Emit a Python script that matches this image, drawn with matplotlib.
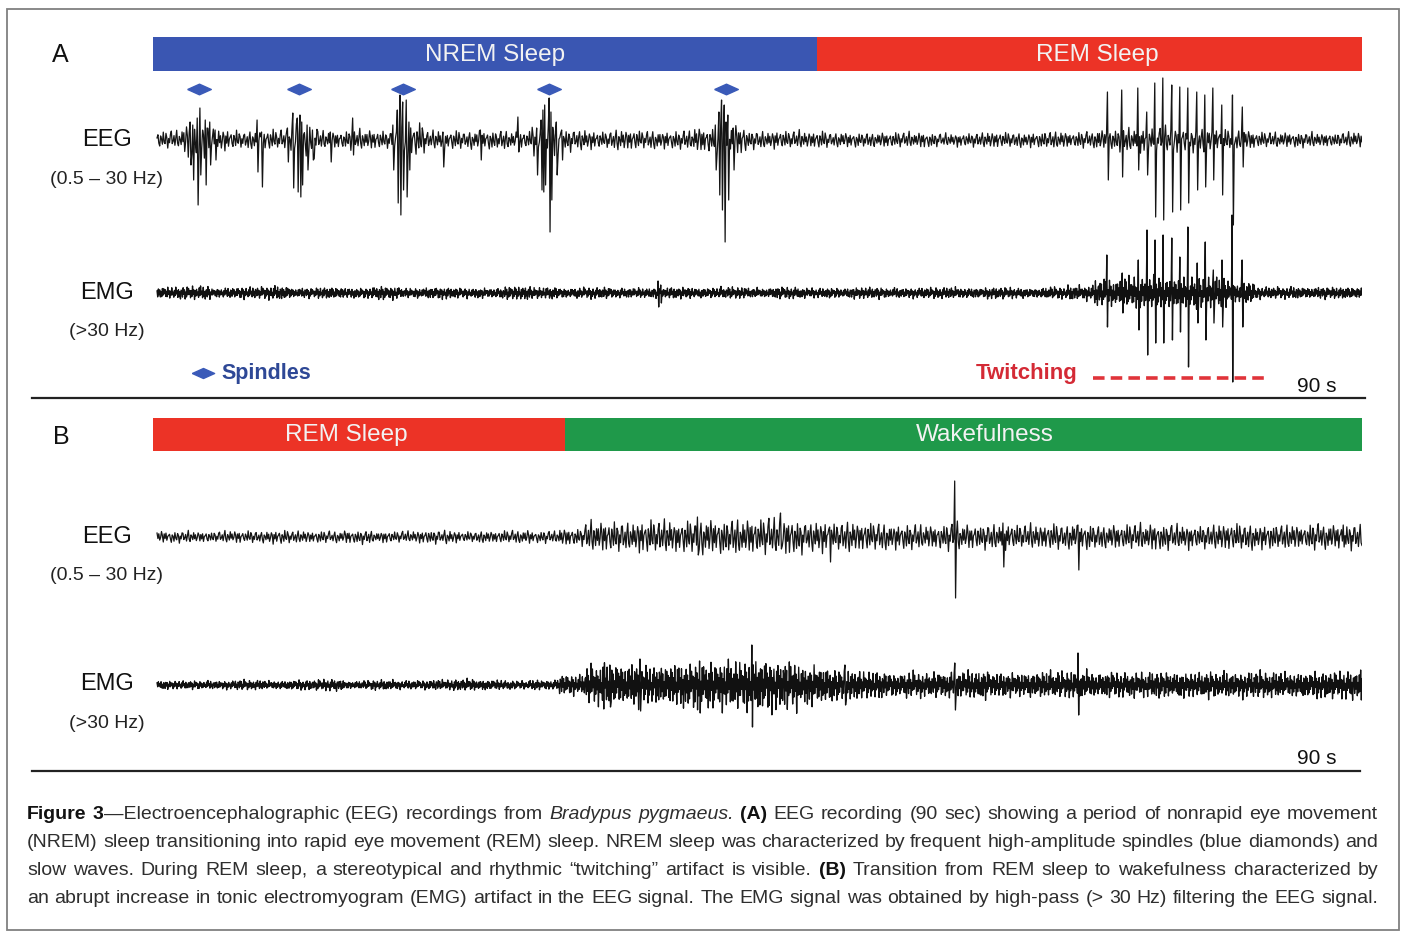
import re
import numpy as np
import matplotlib
matplotlib.use("Agg")
import matplotlib.pyplot as plt
from matplotlib.patches import Rectangle

plt.rcParams['font.family'] = ['Liberation Sans', 'DejaVu Sans']

W, H = 1405, 932
DUREE = 90.0  # s

# --- stades (bornes en secondes) ---
STADES_A = ["NREM Sleep", "REM Sleep"]
BORNES_A = [0.0, 49.4, 90.0]
STADES_B = ["REM Sleep", "Wakefulness"]
BORNES_B = [0.0, 30.7, 90.0]
COULEURS_STADE = {"NREM Sleep": "#3a56b2", "REM Sleep": "#ec3326", "Wakefulness": "#1f994a"}
# position du texte dans chaque barre (s)
TEXTE_T_A = [25.5, 70.3]
TEXTE_T_B = [14.4, 61.9]

# fuseaux (losanges bleus), secondes
SPINDLE_T = [3.42, 10.87, 18.61, 29.48, 42.63]
TWITCH_SPAN = [70.0, 82.8]

# enveloppes : une valeur par tranche de 2 s (45 tranches)
EEG_A_ENV = [11, 20, 13, 11, 12, 20, 11, 12, 11, 20, 11, 11, 12, 11, 20, 13, 11, 12, 11, 11,
             16, 18, 11, 11, 10, 9, 9, 9, 9, 8, 9, 9, 9, 10, 10, 13, 15, 15, 15, 15,
             12, 9, 9, 9, 9]
EMG_A_ENV = [7, 8, 6, 7, 8, 6, 7, 6, 8, 6, 7, 6, 6, 8, 7, 6, 7, 6, 6, 7,
             6, 7, 6, 7, 6, 6, 7, 6, 6, 7, 6, 7, 6, 7, 9, 16, 19, 19, 19, 18,
             13, 7, 7, 7, 7]
EEG_B_ENV = [7, 7, 7, 7, 8, 7, 7, 8, 7, 7, 8, 7, 7, 8, 7, 11, 18, 19, 20, 19,
             21, 22, 22, 21, 19, 18, 17, 16, 15, 16, 15, 16, 15, 15, 16, 15, 15, 16, 15, 15,
             16, 15, 15, 16, 15]
EMG_B_ENV = [5, 5, 5, 6, 5, 6, 7, 5, 6, 5, 6, 7, 6, 5, 6, 12, 24, 26, 24, 27,
             28, 30, 32, 29, 24, 19, 17, 15, 15, 16, 17, 15, 15, 16, 17, 15, 15, 16, 15, 16,
             15, 16, 15, 16, 17]

# pointes (temps s, amplitude haut, amplitude bas)
EEG_A_SPIKES = [
    (2.75, 18, 25), (2.98, 15, 40), (3.28, 22, 65), (3.50, 32, 35), (3.87, 20, 45), (4.24, 18, 25), (4.62, 10, 20),
    (7.74, 20, 32), (8.11, 8, 47),
    (9.98, 12, 22), (10.42, 27, 48), (10.72, 22, 52), (10.94, 25, 57), (11.09, 18, 45), (11.46, 15, 30), (11.84, 10, 20),
    (13.18, 8, 22), (14.89, 22, 15),
    (17.87, 15, 30), (18.16, 30, 63), (18.38, 45, 75), (18.61, 38, 50), (18.82, 40, 57), (19.05, 18, 30),
    (21.59, 8, 27), (24.34, 10, 20), (27.17, 23, 12),
    (28.59, 12, 35), (28.88, 20, 50), (29.03, 30, 52), (29.18, 35, 45), (29.48, 42, 92), (29.63, 28, 60), (30.0, 18, 35), (30.45, 10, 20),
    (41.84, 15, 30), (42.13, 28, 55), (42.35, 40, 70), (42.50, 35, 102), (42.80, 25, 60), (43.17, 12, 30),
    (71.02, 48, 40), (72.14, 50, 37), (73.33, 52, 30), (74.00, 28, 35), (74.59, 57, 77), (75.19, 62, 80),
    (75.86, 55, 72), (76.45, 53, 70), (77.05, 52, 63), (77.72, 48, 50), (78.32, 45, 47), (78.91, 52, 40),
    (79.58, 35, 55), (80.33, 45, 85), (81.07, 33, 27),
]
EMG_A_SPIKES = [
    (37.6, 12, 14), (37.8, 8, 10),
    (71.02, 38, 34), (72.14, 20, 20), (73.33, 33, 37), (74.00, 63, 62), (74.59, 53, 50), (75.19, 58, 50),
    (75.86, 55, 47), (76.45, 36, 39), (77.05, 66, 74), (77.72, 30, 30), (78.32, 51, 47), (78.91, 23, 30),
    (79.58, 33, 34), (80.33, 78, 89), (81.07, 33, 34),
]
EEG_B_SPIKES = [(59.70, 56, 61), (63.28, 14, 30), (68.86, 12, 33), (46.7, 24, 12),
                (50.4, 10, 25), (40.5, 20, 18), (88.6, 12, 10)]
EMG_B_SPIKES = [(44.59, 40, 42), (59.70, 22, 25), (68.86, 32, 30), (89.9, 15, 15), (36.25, 26, 26),
                (40.7, 24, 28), (34.0, 20, 22), (51.5, 20, 20), (33.5, 18, 24)]

# motifs de rendu (forme de l'oscillation entre les bornes de l'enveloppe)
TEX_EEG = [0.25, 0.55, -0.30, -0.80, 0.45, 0.10, -0.60, 0.90, -0.20, -0.45, 0.70, 0.30, -0.95, 0.15,
           -0.35, 0.60, 0.85, -0.50, -0.15, 0.40, -0.70, 0.20, 1.00, -0.40, -0.85, 0.35, 0.05, -0.55,
           0.75, -0.25, 0.50, -0.65, -0.10, 0.80, 0.30, -0.90, 0.45, -0.30, 0.65, -0.75, 0.10]
TEX_EMG = [0.45, -0.70, 0.85, -0.30, 0.60, -0.95, 0.20, -0.55, 1.00, -0.40, 0.70, -0.15, 0.50, -0.80,
           0.35, -0.65, 0.90, -0.25, 0.55, -1.00, 0.30, -0.50, 0.75, -0.35, 0.15, -0.85, 0.65, -0.45,
           0.95, -0.20, 0.40, -0.75, 0.80, -0.60, 0.25, -0.90, 0.55]

CAPTION = [
    "**Figure 3**—Electroencephalographic (EEG) recordings from __Bradypus pygmaeus.__ **(A)** EEG recording (90 sec) showing a period of nonrapid eye movement",
    "(NREM) sleep transitioning into rapid eye movement (REM) sleep. NREM sleep was characterized by frequent high-amplitude spindles (blue diamonds) and",
    "slow waves. During REM sleep, a stereotypical and rhythmic “twitching” artifact is visible. **(B)** Transition from REM sleep to wakefulness characterized by",
    "an abrupt increase in tonic electromyogram (EMG) artifact in the EEG signal. The EMG signal was obtained by high-pass (> 30 Hz) filtering the EEG signal.",
]


def trace(env, spikes, n_seg, tex, tex2, decal):
    n = len(env) * n_seg
    amp = np.repeat(np.array(env, dtype=float), n_seg)
    motif = np.resize(np.roll(tex, decal), n)
    poids = np.resize(np.abs(tex2), n)
    sig = amp * motif * (0.55 + 0.45 * poids)
    t = np.linspace(0.3, DUREE, n)
    for ts, haut, bas in spikes:
        i = int(np.argmin(np.abs(t - ts)))
        sig[i] = haut
        sig[min(i + 1, n - 1)] = -bas
    return t, sig


def panel_axes(fig, x0, y0, x1, y1):
    ax = fig.add_axes([x0 / W, 1 - y1 / H, (x1 - x0) / W, (y1 - y0) / H])
    ax.set_xlim(0, DUREE)
    ax.set_ylim(y1, y0)
    ax.axis('off')
    ax.patch.set_alpha(0)
    return ax


def parse(ligne):
    runs = []
    for part in re.split(r'(\*\*.*?\*\*|__.*?__)', ligne):
        if part.startswith('**'):
            runs.append((part[2:-2], 'bold'))
        elif part.startswith('__'):
            runs.append((part[2:-2], 'italic'))
        elif part:
            runs.append((part, 'normal'))
    mots = [[]]
    for texte, st in runs:
        morceaux = texte.split(' ')
        for j, p in enumerate(morceaux):
            if j > 0:
                mots.append([])
            if p:
                mots[-1].append((p, st))
    return [m for m in mots if m]


fig = plt.figure(figsize=(W / 100, H / 100), dpi=100)
fig.patch.set_facecolor('white')

ov = fig.add_axes([0, 0, 1, 1])
ov.set_xlim(0, W)
ov.set_ylim(H, 0)
ov.axis('off')

# cadre et séparateurs
ov.add_patch(Rectangle((7, 9), 1392, 921, fill=False, edgecolor='#808080', lw=1.3))
ov.plot([32, 1365], [398, 398], color='#222222', lw=1.6)
ov.plot([32, 1360], [771, 771], color='#222222', lw=1.6)

# étiquettes
ov.text(60, 55, "A", fontsize=18, ha='center', va='center', color='#111')
ov.text(61, 437, "B", fontsize=18, ha='center', va='center', color='#111')
for y, lab, sous in [(140, "EEG", "(0.5 – 30 Hz)"), (293, "EMG", "(>30 Hz)"),
                     (537, "EEG", "(0.5 – 30 Hz)"), (684, "EMG", "(>30 Hz)")]:
    ov.text(107, y, lab, fontsize=17, ha='center', va='center', color='#111')
    ov.text(107, y + 39, sous, fontsize=14, ha='center', va='center', color='#222')
ov.text(1317, 386, "90 s", fontsize=15, ha='center', va='center', color='#111')
ov.text(1317, 758, "90 s", fontsize=15, ha='center', va='center', color='#111')

DIAMANT = [(-1, 0), (0, 0.45), (1, 0), (0, -0.45), (-1, 0)]
ov.plot([203], [373], ls='none', marker=DIAMANT, ms=16, color='#3a5ab8')
ov.text(221, 373, "Spindles", fontsize=15.5, fontweight='bold', ha='left', va='center', color='#2e4896')
ov.text(976, 373, "Twitching", fontsize=16, fontweight='bold', ha='left', va='center', color='#d42a35')

# panneau A
axA = panel_axes(fig, 153, 30, 1362, 400)
for i, nom in enumerate(STADES_A):
    t0, t1 = BORNES_A[i], BORNES_A[i + 1]
    axA.barh(54, t1 - t0, left=t0, height=34, color=COULEURS_STADE[nom])
    axA.text(TEXTE_T_A[i], 55, nom, fontsize=17.5, ha='center', va='center', color='#f2f2f2')
axA.plot(SPINDLE_T, [89] * len(SPINDLE_T), ls='none', marker=DIAMANT, ms=17, color='#3a5ab8')
t, s = trace(EEG_A_ENV, EEG_A_SPIKES, 30, TEX_EEG, TEX_EMG, 0)
axA.plot(t, 140 - s, color='#151515', lw=0.9)
t, s = trace(EMG_A_ENV, EMG_A_SPIKES, 40, TEX_EMG, TEX_EEG, 0)
axA.plot(t, 293 - s, color='#111111', lw=0.95)
axA.plot(TWITCH_SPAN, [378, 378], color='#e0343a', lw=2.6, ls=(0, (3.2, 1.7)))

# panneau B
axB = panel_axes(fig, 153, 400, 1362, 775)
for i, nom in enumerate(STADES_B):
    t0, t1 = BORNES_B[i], BORNES_B[i + 1]
    axB.barh(434.5, t1 - t0, left=t0, height=33, color=COULEURS_STADE[nom])
    axB.text(TEXTE_T_B[i], 435, nom, fontsize=17.5, ha='center', va='center', color='#f2f2f2')
t, s = trace(EEG_B_ENV, EEG_B_SPIKES, 30, TEX_EEG, TEX_EMG, 13)
axB.plot(t, 537 - s, color='#151515', lw=0.9)
t, s = trace(EMG_B_ENV, EMG_B_SPIKES, 40, TEX_EMG, TEX_EEG, 11)
axB.plot(t, 685 - s, color='#111111', lw=0.95)

# légende justifiée
renderer = fig.canvas.get_renderer()


def ligne_justifiee(mots, y, x0, x1, taille):
    blocs, largeurs = [], []
    for mot in mots:
        arts = []
        for texte, st in mot:
            kw = dict(fontsize=taille, va='baseline', ha='left', color='#2e2e2e')
            if st == 'bold':
                kw.update(fontweight='bold', color='#111')
            if st == 'italic':
                kw.update(fontstyle='italic')
            arts.append(ov.text(0, y, texte, **kw))
        ws = [a.get_window_extent(renderer).width for a in arts]
        blocs.append((arts, ws))
        largeurs.append(sum(ws))
    ecart = (x1 - x0 - sum(largeurs)) / (len(mots) - 1)
    x = x0
    for arts, ws in blocs:
        for a, w in zip(arts, ws):
            a.set_x(x)
            x += w
        x += ecart


for k, ligne in enumerate(CAPTION):
    ligne_justifiee(parse(ligne), 819 + 28 * k, 27, 1378, 14)

fig.savefig("out.png", dpi=100, facecolor='white')
